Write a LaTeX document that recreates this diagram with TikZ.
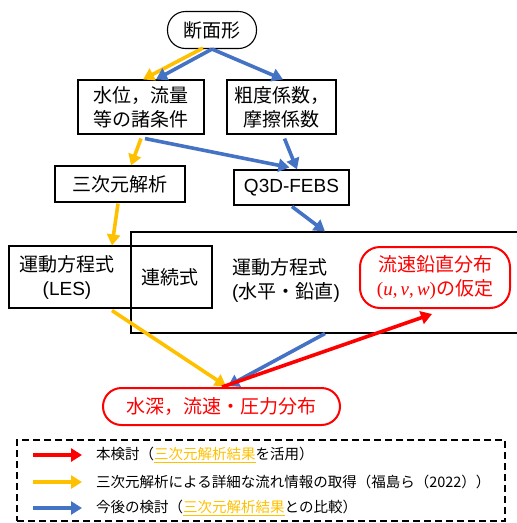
\documentclass[tikz,border=0pt]{standalone}
\usepackage{fontspec}
\setmainfont{Noto Sans CJK JP}
\newfontfamily\lat{Liberation Sans}
\newfontfamily\ser{Liberation Serif}
\usetikzlibrary{arrows.meta,calc}
\definecolor{yel}{HTML}{FFC000}
\definecolor{blu}{HTML}{4472C4}
\definecolor{redc}{HTML}{FF0000}
\begin{document}
\begin{tikzpicture}[x=1pt,y=-1pt,
  box/.style={draw=black, line width=1.1pt, inner sep=0pt, align=center,
    font=\fontsize{19}{24}\selectfont},
  redbox/.style={draw=redc, line width=2pt, inner sep=0pt, align=center, text=redc,
    font=\fontsize{19}{24}\selectfont},
  lbl/.style={inner sep=0pt, align=center, font=\fontsize{19}{24}\selectfont},
  leg/.style={inner sep=0pt, anchor=west, font=\fontsize{14.5}{18}\selectfont},
  arr/.style={line width=3.6pt, -{Triangle[width=13pt,length=11pt]}},
  ya/.style={arr, draw=yel},
  ba/.style={arr, draw=blu},
  ra/.style={arr, draw=redc}]
\useasboundingbox (0,0) rectangle (517,523);

% nodes
\node[box, rounded corners=18pt, minimum width=89pt, minimum height=37pt] (dan) at (212,30) {断面形};
\node[box, minimum width=126pt, minimum height=54pt] (jyo) at (141,107) {水位，流量\\等の諸条件};
\node[box, minimum width=109pt, minimum height=54pt] (sodo) at (281.5,107) {粗度係数，\\摩擦係数};
\node[box, minimum width=130pt, minimum height=36pt] (san) at (120,184) {三次元解析};
\node[box, minimum width=115pt, minimum height=35pt] (q3d) at (291.5,187.5) {\lat Q3D-FEBS};
\node[box, minimum width=203pt, minimum height=62pt] (les) at (110.5,277) {};
\node[lbl] (lest) at (67,277) {運動方程式\\{\lat (LES)}};
\node[box, minimum width=409pt, minimum height=101pt] (big) at (335.5,282.5) {};
\node[lbl] (ren) at (170,277) {連続式};
\node[lbl, anchor=west, align=left] (und) at (232,280) {運動方程式\\{\lat (}水平・鉛直{\lat )}};
\node[redbox, rounded corners=20pt, minimum width=150pt, minimum height=61pt] (kat) at (435,277.5)
  {流速鉛直分布\\{\ser(\textit{u},\,\textit{v},\,\textit{w})}の仮定};
\node[redbox, rounded corners=18.5pt, minimum width=237pt, minimum height=37pt] (sui) at (221.5,406.5)
  {水深，流速・圧力分布};

% arrows
\draw[ya] ($(dan.south)+(-9,-1)$) -- ($(jyo.north)+(2,0)$);
\draw[ba] ($(dan.south)+(0,0)$) -- ($(jyo.north)+(15,0)$);
\draw[ba] ($(dan.south)+(0,0)$) -- ($(sodo.north)+(1.5,0)$);
\draw[ya] ($(jyo.south)+(0,4)$) -- ($(san.north)+(11,0)$);
\draw[ba] ($(jyo.south)+(4,4)$) -- ($(q3d.north)+(-2,-2)$);
\draw[ba] ($(sodo.south)+(3,4)$) -- ($(q3d.north)+(5.5,0)$);
\draw[ya] ($(san.south)+(-2,1)$) -- ($(les.north)+(1.5,0)$);
\draw[ba] ($(q3d.south)+(0.5,1)$) -- ($(big.north)+(-10.5,0)$);
\draw[ya] ($(les.south)+(1.5,2)$) -- ($(sui.north)+(4.5,-1)$);
\draw[ba] ($(big.south)+(-10.5,0)$) -- ($(sui.north)+(6.5,-1)$);
\draw[ra] ($(sui.north)+(0.5,0)$) -- ($(kat.south)+(-3,5)$);

% legend
\node[draw=black, line width=1.8pt, dash pattern=on 7pt off 4pt, minimum width=488pt,
  minimum height=81pt, inner sep=0pt] (legbox) at (261,480.5) {};
\coordinate (l1a) at (33,455); \coordinate (l1b) at (82,455);
\coordinate (l2a) at (33,482); \coordinate (l2b) at (82,482);
\coordinate (l3a) at (33,508); \coordinate (l3b) at (82,508);
\draw[ra] (l1a) -- (l1b);
\draw[ya] (l2a) -- (l2b);
\draw[ba] (l3a) -- (l3b);
\node[leg] (t1) at (96,455) {本検討（\textcolor{yel}{\underline{三次元解析結果}}を活用）};
\node[leg] (t2) at (96,482) {三次元解析による詳細な流れ情報の取得（福島ら（2022））};
\node[leg] (t3) at (96,508) {今後の検討（\textcolor{yel}{\underline{三次元解析結果}}との比較）};
\end{tikzpicture}
\end{document}
